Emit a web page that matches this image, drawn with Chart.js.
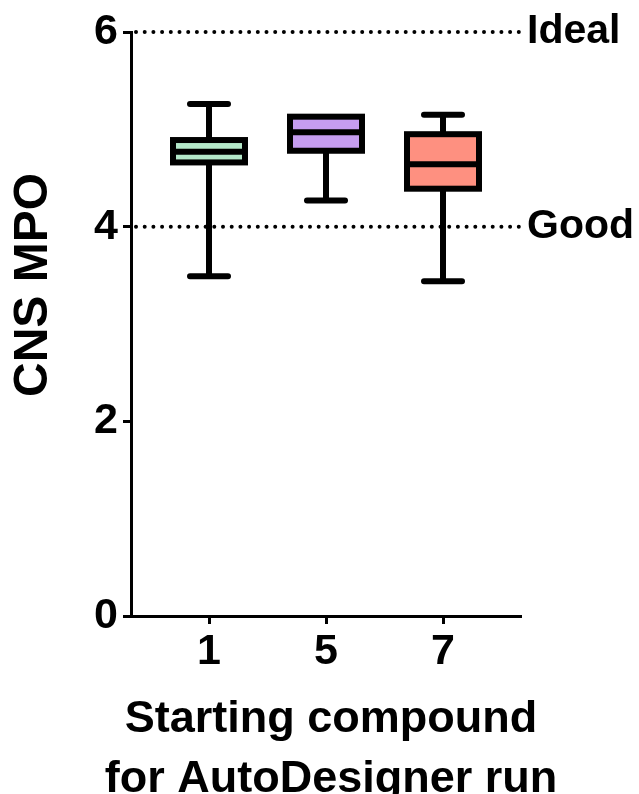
<!DOCTYPE html>
<html>
<head>
<meta charset="utf-8">
<script src="https://cdn.jsdelivr.net/npm/chart.js@4.4.0/dist/chart.umd.min.js"></script>
<style>
  html, body { margin: 0; padding: 0; background: #fff; }
  canvas { display: block; }
</style>
</head>
<body>
<canvas id="chart" width="639" height="794"></canvas>
<script>
// starting compounds and their CNS MPO spread
const categories = ['1', '5', '7'];
const positions = [1, 2, 3];
const whiskerMin = [3.49, 4.27, 3.44];
const q1 = [4.66, 4.78, 4.39];
const median = [4.77, 4.97, 4.64];
const q3 = [4.89, 5.13, 4.95];
const whiskerMax = [5.26, 5.13, 5.15];
const boxColors = ['#b4e8c9', '#c69df0', '#fe9080'];
const yTicks = [0, 2, 4, 6];
const refValues = [6, 4];
const refLabels = ['Ideal', 'Good'];
const xTitle = ['Starting compound', 'for AutoDesigner run'];
const yTitle = 'CNS MPO';

const FONT = '"Liberation Sans", Arial, Helvetica, sans-serif';

const refLinePlugin = {
  id: 'refLines',
  beforeDatasetsDraw(chart) {
    const { ctx, chartArea, scales } = chart;
    ctx.save();
    refValues.forEach((v, i) => {
      const y = scales.y.getPixelForValue(v);
      ctx.beginPath();
      ctx.setLineDash([0, 8.7]);
      ctx.lineCap = 'round';
      ctx.lineWidth = 4;
      ctx.strokeStyle = '#000';
      ctx.moveTo(chartArea.left + 5, y);
      ctx.lineTo(chartArea.right, y);
      ctx.stroke();
      ctx.setLineDash([]);
      ctx.fillStyle = '#000';
      ctx.font = `bold 41px ${FONT}`;
      ctx.textAlign = 'left';
      ctx.textBaseline = 'middle';
      ctx.fillText(refLabels[i], chartArea.right + 6, y);
    });
    ctx.restore();
  }
};

const boxPlugin = {
  id: 'boxes',
  afterDatasetsDraw(chart) {
    const { ctx, scales } = chart;
    const half = 36, cap = 19;
    ctx.save();
    ctx.strokeStyle = '#000';
    positions.forEach((p, i) => {
      const x = scales.x.getPixelForValue(p);
      const yMin = scales.y.getPixelForValue(whiskerMin[i]);
      const yQ1 = scales.y.getPixelForValue(q1[i]);
      const yMed = scales.y.getPixelForValue(median[i]);
      const yQ3 = scales.y.getPixelForValue(q3[i]);
      const yMax = scales.y.getPixelForValue(whiskerMax[i]);

      ctx.lineWidth = 6;
      ctx.lineCap = 'butt';
      ctx.beginPath();
      ctx.moveTo(x, yQ3); ctx.lineTo(x, yMax);
      ctx.moveTo(x, yQ1); ctx.lineTo(x, yMin);
      ctx.stroke();

      ctx.lineCap = 'round';
      ctx.beginPath();
      if (yMax < yQ3 - 1) { ctx.moveTo(x - cap, yMax); ctx.lineTo(x + cap, yMax); }
      ctx.moveTo(x - cap, yMin); ctx.lineTo(x + cap, yMin);
      ctx.stroke();

      ctx.lineCap = 'butt';
      ctx.lineJoin = 'miter';
      ctx.strokeRect(x - half, yQ3, half * 2, yQ1 - yQ3);
      ctx.beginPath();
      ctx.moveTo(x - half, yMed); ctx.lineTo(x + half, yMed);
      ctx.stroke();
    });
    ctx.restore();
  }
};

// axis titles drawn by hand: the built-in title squeezes text to the axis width
const titlePlugin = {
  id: 'axisTitles',
  afterDraw(chart) {
    const { ctx } = chart;
    ctx.save();
    ctx.fillStyle = '#000';
    ctx.textAlign = 'center';
    ctx.textBaseline = 'middle';
    ctx.font = `bold 45px ${FONT}`;
    xTitle.forEach((t, i) => ctx.fillText(t, 331, 720 + i * 60));
    ctx.translate(34, 285);
    ctx.rotate(-Math.PI / 2);
    ctx.font = `bold 48px ${FONT}`;
    ctx.fillText(yTitle, 0, 0);
    ctx.restore();
  }
};

const axisBorder = { display: true, color: '#000', width: 3 };

new Chart(document.getElementById('chart'), {
  type: 'bar',
  data: {
    datasets: [{
      data: positions.map((p, i) => ({ x: p, y: [q1[i], q3[i]] })),
      backgroundColor: boxColors,
      borderWidth: 0,
      barThickness: 72,
    }]
  },
  options: {
    responsive: false,
    animation: false,
    layout: { padding: { top: 32, right: 118, left: 0, bottom: 0 } },
    plugins: { legend: { display: false }, tooltip: { enabled: false } },
    scales: {
      x: {
        type: 'linear',
        min: 1 / 3,
        max: 11 / 3,
        offset: false,
        afterBuildTicks: s => { s.ticks = positions.map(v => ({ value: v })); },
        afterFit: s => { s.height = 178; },
        grid: { display: true, offset: false, drawOnChartArea: false, tickLength: 8, tickWidth: 3, tickColor: '#000' },
        border: axisBorder,
        ticks: {
          color: '#000',
          padding: 2,
          font: { family: FONT, size: 43, weight: 'bold' },
          callback: (v, idx) => categories[idx],
        },
      },
      y: {
        min: 0,
        max: 6,
        afterBuildTicks: s => { s.ticks = yTicks.map(v => ({ value: v })); },
        afterFit: s => { s.width = 131; },
        grid: { display: true, drawOnChartArea: false, tickLength: 8, tickWidth: 3, tickColor: '#000' },
        border: axisBorder,
        ticks: {
          color: '#000',
          padding: 5,
          font: { family: FONT, size: 43, weight: 'bold' },
        },
      },
    },
  },
  plugins: [refLinePlugin, boxPlugin, titlePlugin],
});
</script>
</body>
</html>
